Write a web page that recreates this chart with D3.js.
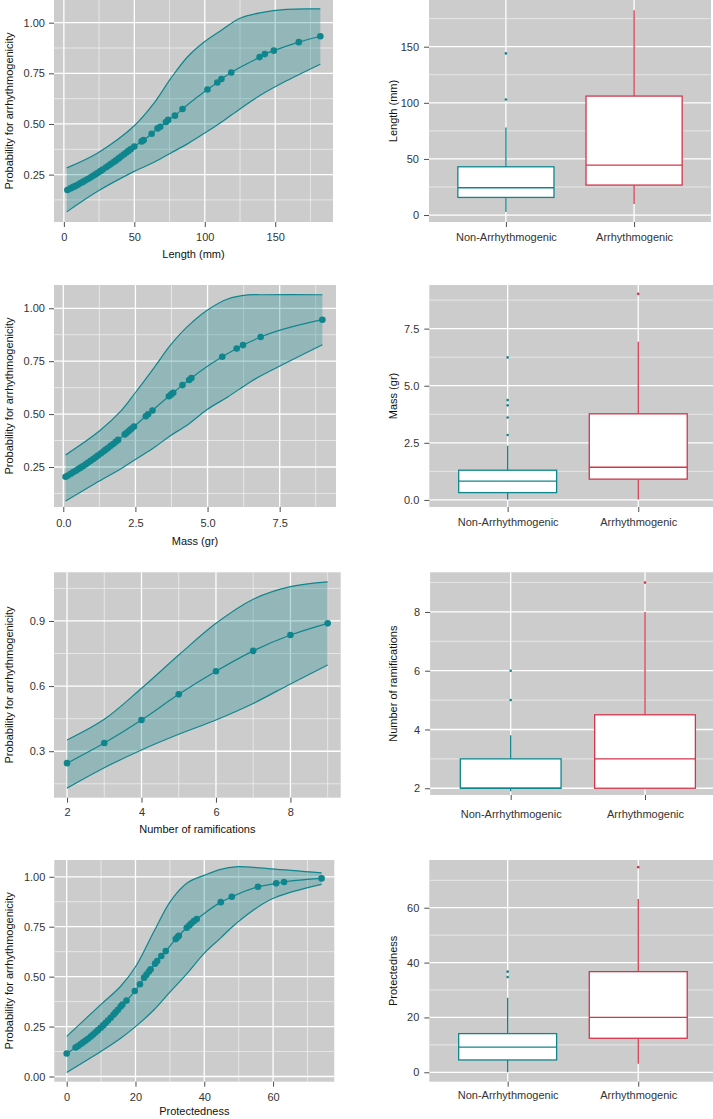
<!DOCTYPE html>
<html>
<head>
<meta charset="utf-8">
<style>
  body { margin: 0; background: #fff; }
  svg text { font-family: "Liberation Sans", Arial, Helvetica, sans-serif; }
</style>
</head>
<body>
<script src="https://d3js.org/d3.v7.min.js"></script>
<script>

var TEAL = "#0f868d";
var RED = "#d2364d";
var PANEL = "#cccccc";
var FONT = "Liberation Sans, Arial, Helvetica, sans-serif";

// ---- Length (mm) ----
var lengthX = [2.5, 4.7, 6.4, 8.0, 9.9, 11.8, 13.5, 15.1, 17, 18.9, 20.5, 22.4, 24.1, 26, 27.6, 30, 31.8, 33.5, 35.4, 37, 38.9, 40.6, 42.5, 44.1, 45.8, 47.6, 50, 55.2, 56.6, 62.3, 66.5, 68.4, 72.4, 74, 78.8, 84.2, 101.9, 108.9, 111.8, 118.8, 138.9, 142.6, 149, 166.7, 182];
var lengthP = [0.174, 0.182, 0.188, 0.193, 0.200, 0.208, 0.214, 0.221, 0.228, 0.236, 0.243, 0.251, 0.259, 0.267, 0.275, 0.286, 0.295, 0.303, 0.312, 0.320, 0.330, 0.339, 0.349, 0.358, 0.367, 0.376, 0.389, 0.414, 0.420, 0.452, 0.478, 0.486, 0.510, 0.520, 0.541, 0.574, 0.670, 0.705, 0.722, 0.754, 0.830, 0.845, 0.862, 0.904, 0.933];
var lengthBandX = [2, 24, 50, 64, 76, 88, 100, 112, 125, 140, 158, 182];
var lengthBandHi = [0.283, 0.357, 0.491, 0.603, 0.726, 0.833, 0.907, 0.964, 1.022, 1.050, 1.066, 1.068];
var lengthBandLo = [0.066, 0.168, 0.266, 0.311, 0.357, 0.403, 0.455, 0.510, 0.574, 0.644, 0.713, 0.795];

// ---- Mass (gr) ----
var massX = [0.08, 0.16, 0.26, 0.35, 0.43, 0.51, 0.60, 0.69, 0.78, 0.86, 0.95, 1.04, 1.12, 1.20, 1.30, 1.39, 1.47, 1.55, 1.64, 1.73, 1.82, 1.90, 2.13, 2.20, 2.28, 2.36, 2.45, 2.86, 2.94, 3.09, 3.66, 3.74, 3.81, 4.13, 4.36, 4.44, 5.51, 6.01, 6.23, 6.84, 8.98];
var massP = [0.204, 0.210, 0.218, 0.226, 0.232, 0.239, 0.247, 0.255, 0.263, 0.271, 0.279, 0.288, 0.296, 0.304, 0.314, 0.323, 0.332, 0.340, 0.350, 0.359, 0.369, 0.378, 0.404, 0.412, 0.421, 0.431, 0.441, 0.490, 0.499, 0.517, 0.584, 0.593, 0.601, 0.637, 0.661, 0.670, 0.771, 0.810, 0.826, 0.864, 0.946];
var massBandX = [0.08, 1.25, 2.0, 2.5, 3.15, 3.7, 4.3, 5.0, 5.7, 6.4, 6.85, 8.98];
var massBandHi = [0.307, 0.420, 0.515, 0.602, 0.720, 0.823, 0.913, 0.992, 1.044, 1.063, 1.064, 1.064];
var massBandLo = [0.089, 0.184, 0.242, 0.286, 0.342, 0.397, 0.449, 0.523, 0.581, 0.645, 0.681, 0.828];

// ---- Number of ramifications ----
var ramX = [2, 3, 4, 5, 6, 7, 8, 9];
var ramP = [0.245, 0.338, 0.444, 0.562, 0.668, 0.762, 0.835, 0.889];
var ramBandHi = [0.352, 0.447, 0.590, 0.743, 0.889, 1.000, 1.058, 1.080];
var ramBandLo = [0.130, 0.224, 0.306, 0.378, 0.444, 0.520, 0.610, 0.697];

// ---- Protectedness ----
var protX = [0, 2.6, 3.3, 4.1, 4.8, 5.5, 6.2, 7.0, 7.7, 8.4, 9.1, 9.9, 10.6, 11.3, 12.0, 12.8, 13.6, 14.2, 14.9, 15.7, 16.2, 17.4, 19.8, 21.3, 22.5, 23.2, 23.9, 24.4, 25.7, 26.3, 27.5, 28.8, 31.7, 32.2, 32.6, 34.9, 35.6, 36.2, 37.0, 37.8, 44.8, 48.0, 55.6, 60.9, 63.2, 74.1];
var protP = [0.115, 0.145, 0.153, 0.163, 0.171, 0.180, 0.189, 0.200, 0.210, 0.221, 0.232, 0.244, 0.256, 0.268, 0.280, 0.294, 0.309, 0.321, 0.334, 0.350, 0.360, 0.380, 0.428, 0.462, 0.495, 0.510, 0.526, 0.537, 0.565, 0.578, 0.603, 0.628, 0.688, 0.697, 0.705, 0.745, 0.756, 0.766, 0.778, 0.788, 0.873, 0.900, 0.950, 0.967, 0.974, 0.992];
var protBandX = [0, 9.9, 15.7, 20.1, 25.4, 30.2, 35.1, 40.1, 44.8, 49.1, 59.3, 74.1];
var protBandHi = [0.201, 0.360, 0.452, 0.552, 0.727, 0.878, 0.970, 1.008, 1.037, 1.050, 1.040, 1.020];
var protBandLo = [0.020, 0.125, 0.192, 0.251, 0.334, 0.426, 0.518, 0.619, 0.694, 0.764, 0.886, 0.962];

// ---- boxplots: [lower whisker, Q1, median, Q3, upper whisker] ----
var groups = ["Non-Arrhythmogenic", "Arrhythmogenic"];
var lengthBox = [[2.7, 15.7, 24.3, 43, 78], [9.8, 26.7, 44.5, 106, 182.4]];
var lengthOut = [[103, 144], []];
var massBox = [[0.02, 0.32, 0.82, 1.30, 2.37], [0.02, 0.91, 1.43, 3.77, 6.93]];
var massOut = [[2.84, 3.61, 4.14, 4.37, 6.24], [9.02]];
var ramBox = [[1.9, 2, 2, 3, 3.8], [2, 2, 3, 4.5, 8]];
var ramOut = [[5, 6], [9]];
var protBox = [[0, 4.5, 9.2, 14.1, 27.2], [3.1, 12.4, 20, 36.7, 63.2]];
var protOut = [[34.7, 36.7], [74.8]];

// ---- ticks ----
var probTicks = [0.25, 0.50, 0.75, 1.00];
var probMinor = [0.125, 0.375, 0.625, 0.875];
var probTicks0 = [0.00, 0.25, 0.50, 0.75, 1.00];
var probMinor0 = [0.125, 0.375, 0.625, 0.875];
var ramProbTicks = [0.3, 0.6, 0.9];
var ramProbMinor = [0.15, 0.45, 0.75, 1.05];
var lengthTicks = [0, 50, 100, 150];
var lengthMinor = [25, 75, 125, 175];
var massTicks = [0, 2.5, 5, 7.5];
var massMinor = [1.25, 3.75, 6.25, 8.75];
var ramTicks = [2, 4, 6, 8];
var ramMinor = [3, 5, 7, 9];
var protTicks = [0, 20, 40, 60];
var protMinor = [10, 30, 50, 70];

var svg = d3.select("body").append("svg").attr("width", 713).attr("height", 1119);

function zip(a, b) { return a.map(function(v, i) { return [v, b[i]]; }); }

function styleAxis(sel) {
  sel.select(".domain").remove();
  sel.attr("font-family", FONT).attr("font-size", 11);
  sel.selectAll(".tick line").attr("stroke", "#4d4d4d");
  sel.selectAll(".tick text").attr("fill", "#333");
}

function background(g, o) {
  g.append("rect")
    .attr("x", o.l).attr("y", o.t)
    .attr("width", Math.min(o.r, 713) - o.l).attr("height", o.b - o.t)
    .attr("fill", PANEL);
}

function hGrid(g, o, y, major, minor) {
  g.selectAll(null).data(minor).enter().append("line")
    .attr("x1", o.l).attr("x2", o.r)
    .attr("y1", function(d) { return y(d); }).attr("y2", function(d) { return y(d); })
    .attr("stroke", "#f2f2f2").attr("stroke-width", 0.7);
  g.selectAll(null).data(major).enter().append("line")
    .attr("x1", o.l).attr("x2", o.r)
    .attr("y1", function(d) { return y(d); }).attr("y2", function(d) { return y(d); })
    .attr("stroke", "#fff").attr("stroke-width", 1.3);
}

function vGrid(g, o, x, major, minor) {
  g.selectAll(null).data(minor).enter().append("line")
    .attr("y1", o.t).attr("y2", o.b)
    .attr("x1", function(d) { return x(d); }).attr("x2", function(d) { return x(d); })
    .attr("stroke", "#f2f2f2").attr("stroke-width", 0.7);
  g.selectAll(null).data(major).enter().append("line")
    .attr("y1", o.t).attr("y2", o.b)
    .attr("x1", function(d) { return x(d); }).attr("x2", function(d) { return x(d); })
    .attr("stroke", "#fff").attr("stroke-width", 1.3);
}

function curvePanel(o) {
  var g = svg.append("g");
  var x = d3.scaleLinear().domain(o.xDom).range([o.l, o.r]);
  var y = d3.scaleLinear().domain(o.yDom).range([o.b, o.t]);
  background(g, o);
  vGrid(g, o, x, o.xTicks, o.xMinor);
  hGrid(g, o, y, o.yTicks, o.yMinor);

  var band = o.bandX.map(function(v, i) { return {x: v, lo: o.bandLo[i], hi: o.bandHi[i]}; });
  var curve = d3.curveCatmullRom.alpha(0.5);
  g.append("path").datum(band)
    .attr("d", d3.area().curve(curve)
      .x(function(d) { return x(d.x); })
      .y0(function(d) { return y(d.lo); })
      .y1(function(d) { return y(d.hi); }))
    .attr("fill", TEAL).attr("fill-opacity", 0.3);
  ["lo", "hi"].forEach(function(k) {
    g.append("path").datum(band)
      .attr("d", d3.line().curve(curve)
        .x(function(d) { return x(d.x); })
        .y(function(d) { return y(d[k]); }))
      .attr("fill", "none").attr("stroke", TEAL).attr("stroke-width", 1.2);
  });
  var pts = zip(o.ptsX, o.ptsP);
  g.append("path").datum(pts)
    .attr("d", d3.line().curve(d3.curveMonotoneX)
      .x(function(d) { return x(d[0]); }).y(function(d) { return y(d[1]); }))
    .attr("fill", "none").attr("stroke", TEAL).attr("stroke-width", 1.2);
  g.selectAll(null).data(pts).enter().append("circle")
    .attr("cx", function(d) { return x(d[0]); })
    .attr("cy", function(d) { return y(d[1]); })
    .attr("r", 3.3).attr("fill", TEAL);

  g.append("g").attr("transform", "translate(0," + o.b + ")")
    .call(d3.axisBottom(x).tickValues(o.xTicks).tickFormat(o.xFmt).tickSize(5).tickPadding(o.xPad))
    .call(styleAxis);
  g.append("g").attr("transform", "translate(" + o.l + ",0)")
    .call(d3.axisLeft(y).tickValues(o.yTicks).tickFormat(o.yFmt).tickSize(5).tickPadding(4))
    .call(styleAxis);

  g.append("text").attr("x", (o.l + o.r) / 2).attr("y", o.xTitleY).attr("dy", "0.35em")
    .attr("text-anchor", "middle").attr("font-size", 11).attr("fill", "#111").text(o.xTitle);
  g.append("text").attr("transform", "translate(9," + ((o.t + o.b) / 2) + ") rotate(-90)")
    .attr("dy", "0.35em").attr("text-anchor", "middle").attr("font-size", 11).attr("fill", "#111")
    .text("Probability for arrhythmogenicity");
}

function boxPanel(o) {
  var g = svg.append("g");
  var x = d3.scalePoint().domain(groups).range([o.l, o.r]).padding(0.6);
  var y = d3.scaleLinear().domain(o.yDom).range([o.b, o.t]);
  var bw = x.step() * 0.75;
  background(g, o);
  vGrid(g, o, x, groups, []);
  hGrid(g, o, y, o.yTicks, o.yMinor);
  var colors = [TEAL, RED];

  groups.forEach(function(name, i) {
    var s = o.stats[i], cx = x(name), c = colors[i];
    g.append("line").attr("x1", cx).attr("x2", cx).attr("y1", y(s[0])).attr("y2", y(s[1]))
      .attr("stroke", c).attr("stroke-width", 1.3);
    g.append("line").attr("x1", cx).attr("x2", cx).attr("y1", y(s[3])).attr("y2", y(s[4]))
      .attr("stroke", c).attr("stroke-width", 1.3);
    g.append("rect").attr("x", cx - bw / 2).attr("width", bw)
      .attr("y", y(s[3])).attr("height", y(s[1]) - y(s[3]))
      .attr("fill", "#fff").attr("stroke", c).attr("stroke-width", 1.3);
    g.append("line").attr("x1", cx - bw / 2).attr("x2", cx + bw / 2)
      .attr("y1", y(s[2])).attr("y2", y(s[2]))
      .attr("stroke", c).attr("stroke-width", 1.3);
    g.selectAll(null).data(o.out[i]).enter().append("circle")
      .attr("cx", cx).attr("cy", function(d) { return y(d); })
      .attr("r", 1.3).attr("fill", c);
  });

  g.append("g").attr("transform", "translate(0," + o.b + ")")
    .call(d3.axisBottom(x).tickSize(5).tickPadding(o.xPad))
    .call(styleAxis);
  g.append("g").attr("transform", "translate(" + o.l + ",0)")
    .call(d3.axisLeft(y).tickValues(o.yTicks).tickFormat(o.yFmt).tickSize(5).tickPadding(5))
    .call(styleAxis);
  g.append("text").attr("transform", "translate(393," + ((o.t + o.b) / 2) + ") rotate(-90)")
    .attr("dy", "0.35em").attr("text-anchor", "middle").attr("font-size", 11).attr("fill", "#111")
    .text(o.yTitle);
}

var f2 = d3.format(".2f"), f1 = d3.format(".1f"), f0 = d3.format("d");

// Row 1: Length
curvePanel({l: 54, r: 333, t: 0, b: 222, xDom: [-7, 191], yDom: [0.016, 1.112],
  xTicks: lengthTicks, xMinor: lengthMinor, yTicks: probTicks, yMinor: probMinor,
  xFmt: f0, yFmt: f2, xPad: 6, xTitle: "Length (mm)", xTitleY: 254,
  ptsX: lengthX, ptsP: lengthP, bandX: lengthBandX, bandLo: lengthBandLo, bandHi: lengthBandHi});
boxPanel({l: 429, r: 711, t: 0, b: 222, yDom: [-6.2, 191.6],
  yTicks: lengthTicks, yMinor: lengthMinor, yFmt: f0, xPad: 6, yTitle: "Length (mm)",
  stats: lengthBox, out: lengthOut});

// Row 2: Mass
curvePanel({l: 54, r: 336, t: 285, b: 507, xDom: [-0.322, 9.452], yDom: [0.061, 1.110],
  xTicks: massTicks, xMinor: massMinor, yTicks: probTicks, yMinor: probMinor,
  xFmt: f1, yFmt: f2, xPad: 7, xTitle: "Mass (gr)", xTitleY: 541,
  ptsX: massX, ptsP: massP, bandX: massBandX, bandLo: massBandLo, bandHi: massBandHi});
boxPanel({l: 429.3, r: 716.6, t: 285, b: 507, yDom: [-0.31, 9.41],
  yTicks: massTicks, yMinor: massMinor, yFmt: f1, xPad: 6, yTitle: "Mass (gr)",
  stats: massBox, out: massOut});

// Row 3: Number of ramifications
curvePanel({l: 54, r: 340.7, t: 572.3, b: 797.7, xDom: [1.65, 9.35], yDom: [0.086, 1.124],
  xTicks: ramTicks, xMinor: ramMinor, yTicks: ramProbTicks, yMinor: ramProbMinor,
  xFmt: f0, yFmt: f1, xPad: 6, xTitle: "Number of ramifications", xTitleY: 829,
  ptsX: ramX, ptsP: ramP, bandX: ramX, bandLo: ramBandLo, bandHi: ramBandHi});
boxPanel({l: 430.1, r: 725.6, t: 572.3, b: 795, yDom: [1.77, 9.35],
  yTicks: ramTicks, yMinor: ramMinor, yFmt: f0, xPad: 10, yTitle: "Number of ramifications",
  stats: ramBox, out: ramOut});

// Row 4: Protectedness
curvePanel({l: 54.3, r: 334.3, t: 860, b: 1081.7, xDom: [-3.6, 77.8], yDom: [-0.026, 1.084],
  xTicks: protTicks, xMinor: protMinor, yTicks: probTicks0, yMinor: probMinor0,
  xFmt: f0, yFmt: f2, xPad: 7, xTitle: "Protectedness", xTitleY: 1111.5,
  ptsX: protX, ptsP: protP, bandX: protBandX, bandLo: protBandLo, bandHi: protBandHi});
boxPanel({l: 429.3, r: 716.6, t: 860, b: 1081.7, yDom: [-3.43, 77.4],
  yTicks: protTicks, yMinor: protMinor, yFmt: f0, xPad: 5, yTitle: "Protectedness",
  stats: protBox, out: protOut});

</script>
</body>
</html>
